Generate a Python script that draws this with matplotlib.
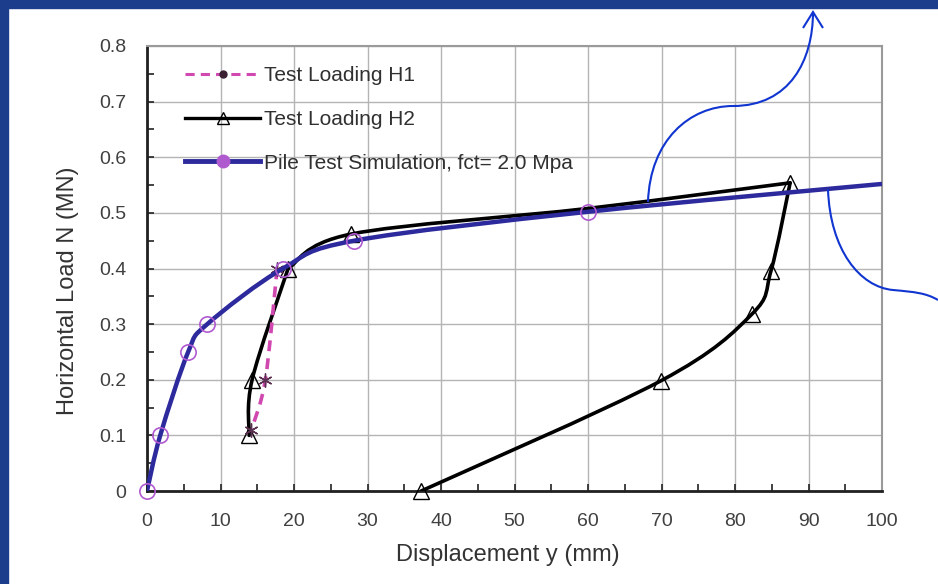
import matplotlib.pyplot as plt
import numpy as np
import matplotlib.transforms as mtransforms
from matplotlib.path import Path
from matplotlib.patches import PathPatch, Rectangle
from matplotlib.lines import Line2D
from matplotlib.ticker import MultipleLocator, FuncFormatter

plt.rcParams['font.family'] = ['Liberation Sans', 'DejaVu Sans']

# Values
sim_x = [0, 1.8, 5.6, 8.2, 18.5, 28.2, 60.0, 100.0]
sim_y = [0, 0.10, 0.25, 0.30, 0.40, 0.45, 0.502, 0.552]
sim_marked = 7  # circles drawn on the first 7 points only

h1_x = [17.7, 16.1, 14.2]
h1_y = [0.40, 0.20, 0.11]

# H2: reloading branch, loading branch, unloading branch
h2_reload_x = [13.9, 14.3, 19.2]
h2_reload_y = [0.10, 0.20, 0.40]
h2_load_x = [19.2, 27.8, 60.0, 87.5]
h2_load_y = [0.40, 0.462, 0.508, 0.554]
h2_unload_x = [87.5, 84.9, 82.3, 69.9, 37.3]
h2_unload_y = [0.554, 0.396, 0.318, 0.198, 0.0]
h2_mark_x = [13.9, 14.3, 19.2, 27.8, 87.5, 84.9, 82.3, 69.9, 37.3]
h2_mark_y = [0.10, 0.20, 0.40, 0.462, 0.554, 0.396, 0.318, 0.198, 0.0]

labels = ["Test Loading H1", "Test Loading H2", "Pile Test Simulation, fct= 2.0 Mpa"]

BLUE = '#2c2a9c'
PURPLE = '#b05ad0'
PINK = '#d048b0'


def smooth_path(xs, ys):
    # Catmull-Rom style smoothed line like the spreadsheet "smoothed line" option
    pts = np.column_stack([xs, ys]).astype(float)
    p = np.vstack([pts[0], pts, pts[-1]])
    verts = [pts[0]]
    codes = [Path.MOVETO]
    for i in range(1, len(p) - 2):
        c1 = p[i] + (p[i + 1] - p[i - 1]) / 6
        c2 = p[i + 1] - (p[i + 2] - p[i]) / 6
        verts += [c1, c2, p[i + 1]]
        codes += [Path.CURVE4] * 3
    return Path(verts, codes)


fig = plt.figure(figsize=(9.38, 5.84), dpi=100)
fig.patch.set_facecolor('white')

# slide frame
fig.patches.append(Rectangle((0, 1 - 8 / 584), 1, 8 / 584, transform=fig.transFigure,
                             color='#1c3c8c', zorder=0))
fig.patches.append(Rectangle((0, 0), 8 / 938, 1, transform=fig.transFigure,
                             color='#1c3c8c', zorder=0))

ax = fig.add_axes([147 / 938, 1 - 491 / 584, 735 / 938, 445 / 584])
ax.set_xlim(0, 100)
ax.set_ylim(0, 0.8)

# H2 test (black, triangles)
for xs, ys in [(h2_reload_x, h2_reload_y), (h2_load_x, h2_load_y),
               (h2_unload_x, h2_unload_y)]:
    ax.add_patch(PathPatch(smooth_path(xs, ys), fill=False, edgecolor='black',
                           lw=2.6, zorder=3, capstyle='round', joinstyle='round'))
ax.plot(h2_mark_x, h2_mark_y, ls='none', marker='^',
        ms=11, mfc='none', mec='black', mew=1.0, zorder=4, clip_on=False)

# H1 test (pink dashed)
ax.add_patch(PathPatch(smooth_path(h1_x, h1_y), fill=False, edgecolor=PINK,
                       lw=2.6, ls=(0, (3, 2)), zorder=3))
ax.plot(h1_x, h1_y, ls='none', marker=(6, 2, 0), ms=10, mec='#5a3050', mew=1.0, zorder=4)

# simulation (blue line, purple circles)
ax.add_patch(PathPatch(smooth_path(sim_x, sim_y), fill=False, edgecolor=BLUE,
                       lw=3.2, zorder=5))
ax.plot(sim_x[:sim_marked], sim_y[:sim_marked], ls='none', marker='o', ms=11,
        mfc='none', mec=PURPLE, mew=1.2, zorder=6, clip_on=False)

# axes styling
ax.xaxis.set_major_locator(MultipleLocator(10))
ax.xaxis.set_minor_locator(MultipleLocator(5))
ax.yaxis.set_major_locator(MultipleLocator(0.1))
ax.yaxis.set_minor_locator(MultipleLocator(0.05))
ax.yaxis.set_major_formatter(FuncFormatter(lambda v, p: '0' if abs(v) < 1e-9 else f'{v:.1f}'))
ax.tick_params(which='both', direction='in', length=5, width=1.2, color='#222222',
               top=False, right=False)
ax.tick_params(axis='x', labelsize=14, pad=16, labelcolor='#404040')
ax.tick_params(axis='y', labelsize=14, pad=15, labelcolor='#404040')
ax.grid(True, which='major', color='#b4b4b4', lw=1.0)
ax.set_axisbelow(True)
for side in ['left', 'bottom']:
    ax.spines[side].set_color('#202020')
    ax.spines[side].set_linewidth(2.0)
for side in ['top', 'right']:
    ax.spines[side].set_color('#9a9a9a')
    ax.spines[side].set_linewidth(1.5)

fig.text(508 / 938, 1 - 555 / 584, 'Displacement y (mm)', ha='center', va='center',
         fontsize=17, color='#333333')
fig.text(68 / 938, 1 - 291 / 584, 'Horizontal Load N (MN)', ha='center', va='center',
         rotation=90, fontsize=17, color='#333333')

# legend
handles = [
    Line2D([], [], color=PINK, lw=2.2, ls=(0, (3, 2)), marker='o', ms=5,
           mfc='#3a2030', mec='#3a2030'),
    Line2D([], [], color='black', lw=2.4, marker='^', ms=9, mfc='none', mec='black'),
    Line2D([], [], color=BLUE, lw=3.5, marker='o', ms=9, mfc=PURPLE, mec=PURPLE),
]
leg = ax.legend(handles, labels, loc='upper left', bbox_to_anchor=(0.052, 0.954),
                frameon=False, fontsize=15, handlelength=3.6, handletextpad=0.2,
                labelspacing=1.18, borderpad=0, borderaxespad=0)
for t in leg.get_texts():
    t.set_color('#303030')

# blue callout strokes drawn on the slide
px = mtransforms.Affine2D().scale(1 / 938, -1 / 584).translate(0, 1) + fig.transFigure
callout1 = Path([(648, 202), (650, 140), (690, 106), (733, 106),
                 (790, 106), (813, 60), (813, 12)],
                [Path.MOVETO] + [Path.CURVE4] * 6)
callout2 = Path([(828, 189), (830, 250), (860, 287), (893, 290),
                 (915, 292), (926, 293), (938, 300)],
                [Path.MOVETO] + [Path.CURVE4] * 6)
head = Path([(803, 28), (813, 12), (823, 28)], [Path.MOVETO, Path.LINETO, Path.LINETO])
for pth in [callout1, callout2, head]:
    fig.patches.append(PathPatch(pth, transform=px, fill=False, edgecolor='#1035d0',
                                 lw=1.5, zorder=10))

fig.savefig('out.png', dpi=100, facecolor='white')
